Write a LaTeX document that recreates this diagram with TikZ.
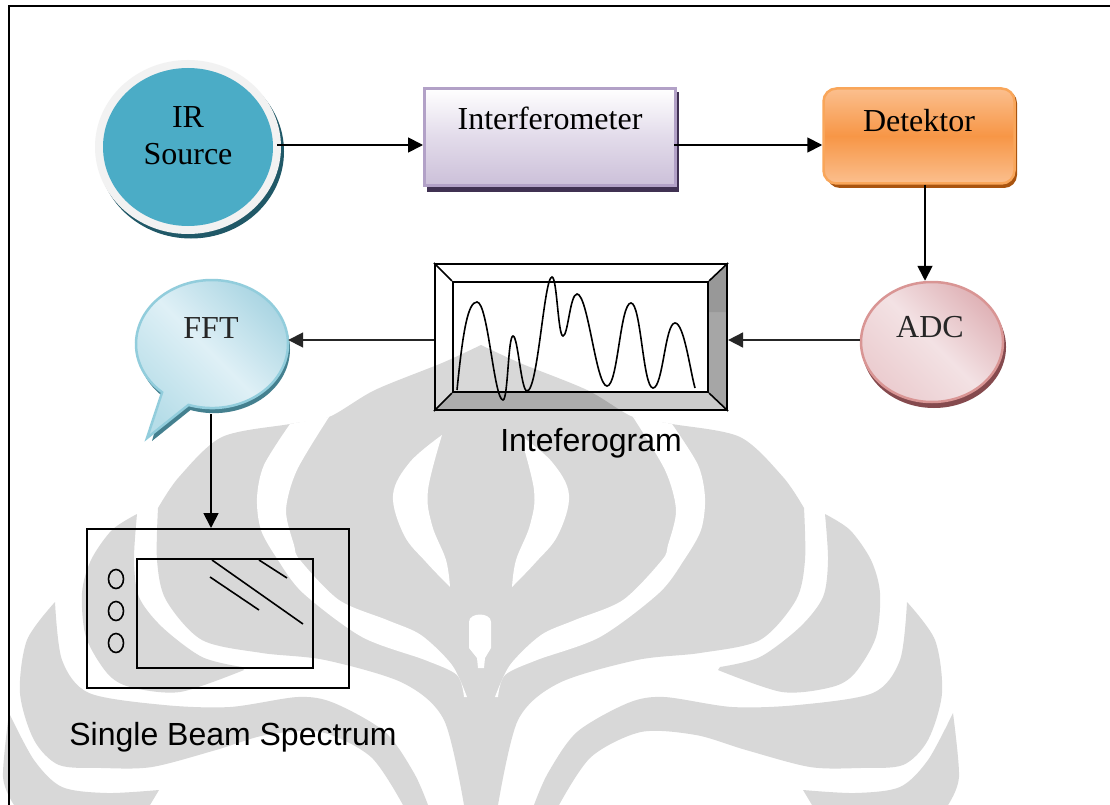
\documentclass[tikz,border=0pt]{standalone}
\usepackage{fontspec}
\setmainfont{Liberation Serif}
\newfontfamily\labelsans{Liberation Sans}
\usetikzlibrary{shapes.geometric,arrows.meta}
\definecolor{wm}{HTML}{D8D8D8}
\definecolor{irring}{HTML}{F2F2F2}
\definecolor{irfill}{HTML}{4BACC6}
\definecolor{irshadow}{HTML}{205867}
\definecolor{inborder}{HTML}{B2A1C7}
\definecolor{inshadow}{HTML}{403152}
\definecolor{inbottom}{HTML}{CCC0D9}
\definecolor{inmid}{HTML}{E2DBEA}
\definecolor{deborder}{HTML}{F9A65A}
\definecolor{deshadow}{HTML}{A9540F}
\definecolor{deedge}{HTML}{FBBF8E}
\definecolor{demid}{HTML}{F79646}
\definecolor{adcborder}{HTML}{D99594}
\definecolor{adcshadow}{HTML}{854A4E}
\definecolor{adcdark}{HTML}{DFB2B6}
\definecolor{adcmid}{HTML}{F3E2E4}
\definecolor{adclow}{HTML}{EBCCCF}
\definecolor{fftborder}{HTML}{92CDDC}
\definecolor{fftshadow}{HTML}{44808F}
\definecolor{fftdark}{HTML}{A6D3E1}
\definecolor{fftmid}{HTML}{DFF0F6}
\definecolor{fftlow}{HTML}{B6DDE8}
\tikzset{
  x=1pt,y=-1pt,
  arr/.style={draw=black,line width=1.8pt,-{Triangle[length=15pt,width=15pt]}},
  arrdark/.style={draw=black!85,line width=1.8pt,-{Triangle[length=15pt,width=15pt]}},
  dia/.style={draw=black,line width=1.6pt},
  blob/.style={ellipse,inner sep=0pt},
  serif/.style={font=\fontsize{32}{37}\selectfont,anchor=base,inner sep=0pt},
  sans/.style={font=\labelsans\fontsize{32}{37}\selectfont,anchor=base,inner sep=0pt},
  dot/.style={draw=black,line width=1.6pt,ellipse,minimum width=15pt,minimum height=19pt,inner sep=0pt},
}
\newcommand{\halfmark}{%
  % dome, right half, down to the stem
  \fill[wm] plot[smooth,tension=.5] coordinates {(481,345) (520,363) (587,390) (633,417) (672,424) (740,437) (783,477) (804,508)}
    -- plot[smooth,tension=.5] coordinates {(804,508) (805,560) (796,600) (760,640) (700,653) (637,660) (559,683) (518,720) (498,805)}
    -- (481,805) -- cycle;
  % narrow ribbon
  \fill[white] plot[smooth,tension=.5] coordinates {(633,417) (665,470) (676,510) (668,545) (662,560) (623,600) (575,620) (541,635) (510,665) (495,697)}
    -- plot[smooth,tension=.5] coordinates {(498,697) (505,675) (537,660) (600,637) (659,593) (684,560) (701,530) (705,498) (698,465) (672,424)} -- cycle;
  % crescent
  \fill[white] plot[smooth,tension=.6] coordinates {(520,435) (552,462) (569,495) (558,535) (536,562) (512,587)}
    -- plot[smooth,tension=.6] coordinates {(512,587) (516,560) (530,525) (534,490) (520,435)} -- cycle;
  % inner lobe
  \fill[wm] plot[smooth,tension=.5] coordinates {(825,514) (850,530) (871,560) (880,593) (876,637) (855,673) (832,687) (782,692) (718,670)}
    -- plot[smooth,tension=.5] coordinates {(720,667) (760,657) (800,627) (823,597) (828,560) (825,514)} -- cycle;
  % band
  \fill[wm] plot[smooth,tension=.5] coordinates {(534,805) (548,773) (577,732) (628,703) (664,697) (732,707) (798,705) (873,693) (900,660) (907,602)}
    -- plot[smooth,tension=.5] coordinates {(907,602) (935,640) (942,693) (928,740) (903,765) (860,768) (810,767) (746,750) (696,735) (641,732) (591,757) (559,805)} -- cycle;
  % lower lobe
  \fill[wm] plot[smooth,tension=.5] coordinates {(953,713) (959,777) (948,805)}
    -- (812,805) -- plot[smooth,tension=.5] coordinates {(803,790) (855,793) (900,787) (928,760) (953,713)} -- cycle;
}
\begin{document}
\begin{tikzpicture}
\useasboundingbox (0,0) rectangle (1110,805);
\fill[white] (0,0) rectangle (1110,805);
% watermark
\begin{scope}
\clip (0,0) rectangle (1110,805);
\halfmark
\begin{scope}[shift={(962,0)},xscale=-1]
\halfmark
\end{scope}
\fill[white] (469,622) .. controls (469,612) and (491,612) .. (491,622) -- (491,648) -- (485,658) -- (484,668) -- (478,668) -- (477,658) -- (469,648) -- cycle;
\end{scope}
% frame
\draw[black,line width=2pt] (9,805) -- (9,6) -- (1110,6);
% IR source
\node[blob,fill=irshadow,minimum width=186pt,minimum height=174pt] (irs) at (191,151.5) {};
\node[blob,fill=irring,minimum width=186pt,minimum height=174pt] (iro) at (188,147) {};
\node[blob,fill=irfill,minimum width=170pt,minimum height=158pt] (ir) at (188,147) {};
\node[font=\fontsize{32}{37}\selectfont,align=center,inner sep=0pt] (irt) at (188,136) {IR\\Source};
% Interferometer
\node[fill=inshadow,minimum width=252pt,minimum height=100pt,inner sep=0pt] (ins) at (553,142) {};
\node[draw=inborder,line width=3pt,top color=white,bottom color=inbottom,middle color=inmid,minimum width=251pt,minimum height=97pt,inner sep=0pt] (intf) at (550,137) {};
\node[serif] (intt) at (550,130) {Interferometer};
% Detektor
\node[fill=deshadow,rounded corners=13pt,minimum width=190pt,minimum height=98pt,inner sep=0pt] (des) at (922,139) {};
\node[draw=deborder,line width=2.5pt,rounded corners=13pt,top color=deedge,bottom color=deedge,middle color=demid,minimum width=191pt,minimum height=95pt,inner sep=0pt] (det) at (919,136) {};
\node[serif] (dett) at (919,132) {Detektor};
% ADC
\node[blob,fill=adcshadow,minimum width=144pt,minimum height=122pt] (adcs) at (934,347) {};
\node[blob,draw=adcborder,line width=2.5pt,top color=adcdark,bottom color=adclow,middle color=adcmid,shading angle=-45,minimum width=142pt,minimum height=120pt] (adc) at (932,342) {};
\node[serif,text=black!85] (adct) at (930,337) {ADC};
% FFT callout
\fill[fftshadow] (190.5,410) arc[start angle=252,end angle=589,x radius=76pt,y radius=64pt] -- (152,441) -- cycle;
\path[draw=fftborder,line width=2.5pt,top color=fftdark,bottom color=fftlow,middle color=fftmid,shading angle=-45]
  (188.5,404.9) arc[start angle=252,end angle=589,x radius=76pt,y radius=64pt] -- (147,438) -- cycle;
\node[blob,minimum width=152pt,minimum height=128pt] (fft) at (212,344) {};
\node[blob,minimum width=152pt,minimum height=138pt] (fftbase) at (212,345) {};
\node[serif,text=black!85] (fftt) at (211,338) {FFT};
% Interferogram
\fill[black,opacity=.35] (727,264) -- (708,282) -- (708,392) -- (727,410) -- cycle;
\fill[black,opacity=.08] (727,264) -- (708,282) -- (708,312) -- (727,312) -- cycle;
\fill[black,opacity=.2] (435,410) -- (453,392) -- (708,392) -- (727,410) -- cycle;
\node[draw=black,line width=2.2pt,minimum width=292pt,minimum height=146pt,inner sep=0pt] (gram) at (581,337) {};
\node[draw=black,line width=2.2pt,minimum width=255pt,minimum height=110pt,inner sep=0pt] (gramin) at (580.5,337) {};
\draw[dia] (gram.north west) -- (gramin.north west) (gram.north east) -- (gramin.north east)
  (gram.south west) -- (gramin.south west) (gram.south east) -- (gramin.south east);
\draw[dia] (457,390) .. controls (463,330) and (468,302) .. (477,302)
  .. controls (488,302) and (494,400) .. (503,400)
  .. controls (508,400) and (508,336) .. (513,336)
  .. controls (518,336) and (521,391) .. (527,391)
  .. controls (538,391) and (544,277) .. (552,277)
  .. controls (557,277) and (558,336) .. (563,336)
  .. controls (568,336) and (570,294) .. (577,294)
  .. controls (588,294) and (596,386) .. (607,386)
  .. controls (618,386) and (620,303) .. (631,303)
  .. controls (641,303) and (643,388) .. (653,388)
  .. controls (663,388) and (665,323) .. (675,323)
  .. controls (684,323) and (690,370) .. (695,388);
\node[sans] (gramt) at (591,451) {Inteferogram};
% Spectrum
\node[draw=black,line width=2pt,minimum width=262pt,minimum height=159pt,inner sep=0pt] (spec) at (218,608.5) {};
\node[draw=black,line width=2pt,minimum width=176pt,minimum height=109pt,inner sep=0pt] (specin) at (225,613.5) {};
\node[dot] (o1) at (116,579) {};
\node[dot] (o2) at (116,611) {};
\node[dot] (o3) at (116,643) {};
\draw[dia] (212,560) -- (303,624);
\draw[dia] (259,560) -- (287,578);
\draw[dia] (210,577) -- (259,610);
\node[sans] (spect) at (233,745) {Single Beam Spectrum};
% connectors
\coordinate (y1) at (0,145);
\coordinate (y2) at (0,340);
\coordinate (x1) at (925,0);
\coordinate (x2) at (211,0);
\draw[arr,shorten <=-4pt] (iro.east |- y1) -- (intf.west |- y1);
\draw[arr,shorten <=-3pt] (intf.east |- y1) -- (det.west |- y1);
\draw[arr] (x1 |- det.south) -- (x1 |- adc.north);
\draw[arrdark] (adc.west |- y2) -- (gram.east |- y2);
\draw[arrdark] (gram.west |- y2) -- (fft.east |- y2);
\draw[arr] (x2 |- fftbase.south) -- (x2 |- spec.north);
\end{tikzpicture}
\end{document}
